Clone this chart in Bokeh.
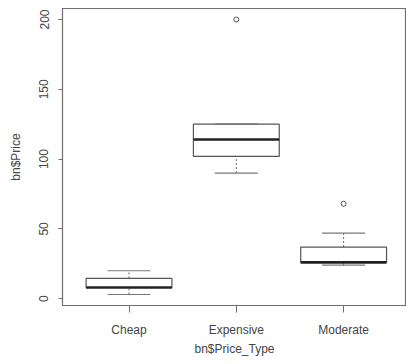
from bokeh.plotting import figure
from bokeh.models import Range1d, ColumnDataSource, FixedTicker
from bokeh.embed import file_html
from bokeh.resources import INLINE

categories = ["Cheap", "Expensive", "Moderate"]
lower_whisker = [3, 90, 24]
q1 = [8, 102, 26]
median = [8, 114, 26]
q3 = [14.5, 125, 37]
upper_whisker = [20, 125, 47]
outlier_cat = [2, 3]
outlier_val = [200, 68]
y_ticks = [0, 50, 100, 150, 200]

pos = [1, 2, 3]
box_w = 0.8
cap_w = 0.4

src = ColumnDataSource(dict(
    x=pos, lw=lower_whisker, q1=q1, med=median, q3=q3, uw=upper_whisker,
    left=[p - box_w / 2 for p in pos], right=[p + box_w / 2 for p in pos],
    cl=[p - cap_w / 2 for p in pos], cr=[p + cap_w / 2 for p in pos],
))

p = figure(width=406, height=364, output_backend="svg", toolbar_location=None,
           x_range=Range1d(0.38, 3.586), y_range=Range1d(-4.88, 207.88),
           frame_width=344, frame_height=297,
           min_border_left=62, min_border_top=8, min_border_right=0, min_border_bottom=59)
p.xgrid.visible = False
p.ygrid.visible = False
p.outline_line_color = "#6e6e6e"
p.outline_line_width = 1.2
p.background_fill_color = "white"
p.border_fill_color = "white"

# whiskers (dashed)
p.segment(x0="x", y0="q3", x1="x", y1="uw", source=src, line_color="#666666", line_dash="2 2", line_width=1)
p.segment(x0="x", y0="lw", x1="x", y1="q1", source=src, line_color="#666666", line_dash="2 2", line_width=1)
# caps
p.segment(x0="cl", y0="uw", x1="cr", y1="uw", source=src, line_color="#777777", line_width=1.2)
p.segment(x0="cl", y0="lw", x1="cr", y1="lw", source=src, line_color="#777777", line_width=1.2)
# boxes
p.quad(left="left", right="right", bottom="q1", top="q3", source=src,
       fill_color="white", line_color="#555555", line_width=1.2)
# medians
p.segment(x0="left", y0="med", x1="right", y1="med", source=src, line_color="#222222", line_width=2.6)
# outliers
p.scatter(x=outlier_cat, y=outlier_val, marker="circle", size=5, fill_color=None,
          line_color="#555555", line_width=1)

font = "Liberation Sans"
p.xaxis.ticker = FixedTicker(ticks=pos)
p.xaxis.major_label_overrides = {1: "Cheap", 2: "Expensive", 3: "Moderate"}
p.xaxis.minor_tick_line_color = None
p.xaxis.major_tick_out = 7
p.xaxis.major_tick_in = 0
p.xaxis.major_label_standoff = 10
p.xaxis.axis_label = "bn$Price_Type"
p.xaxis.axis_label_standoff = 2

p.yaxis.ticker = FixedTicker(ticks=y_ticks)
p.yaxis.minor_tick_line_color = None
p.yaxis.major_tick_out = 4
p.yaxis.major_tick_in = 0
p.yaxis.major_label_orientation = "vertical"
p.yaxis.major_label_standoff = 10
p.yaxis.axis_label = "bn$Price"
p.yaxis.axis_label_standoff = 14

for ax in (p.xaxis, p.yaxis):
    ax.axis_line_color = "#6e6e6e"
    ax.major_tick_line_color = "#6e6e6e"
    ax.major_label_text_font = font
    ax.major_label_text_font_size = "12px"
    ax.major_label_text_color = "#444444"
    ax.axis_label_text_font = font
    ax.axis_label_text_font_size = "12px"
    ax.axis_label_text_font_style = "normal"
    ax.axis_label_text_color = "#444444"

open("out.html", "w").write(file_html(p, INLINE))
